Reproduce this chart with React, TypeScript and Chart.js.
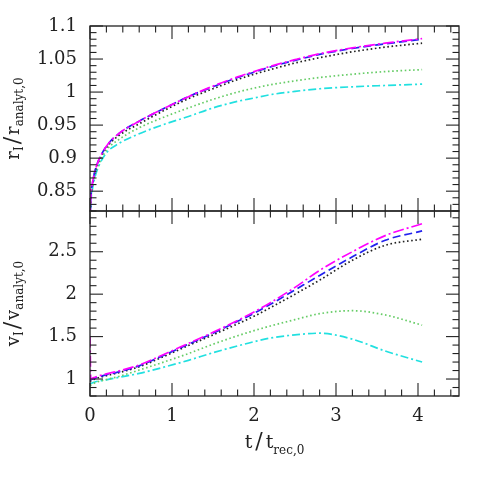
import React, { useEffect, useRef } from "react";
import { Chart, registerables } from "chart.js";
Chart.register(...registerables);

// time grid t / t_rec,0
const T = [0, 0.01, 0.03, 0.06, 0.1, 0.2, 0.35, 0.6, 0.9, 1.2, 1.5, 1.8, 2.0, 2.2, 2.5, 2.8, 3.2, 3.6, 4.05];

// top panel: r_I / r_analyt,0
const R_MAGENTA = [0.80, 0.84, 0.862, 0.880, 0.895, 0.918, 0.937, 0.956, 0.975, 0.993, 1.009, 1.023, 1.031, 1.039, 1.049, 1.058, 1.067, 1.074, 1.081];
const R_BLUE = [0.80, 0.84, 0.862, 0.880, 0.895, 0.918, 0.937, 0.956, 0.975, 0.993, 1.008, 1.022, 1.030, 1.038, 1.048, 1.057, 1.066, 1.073, 1.080];
const R_BLACK = [0.80, 0.84, 0.861, 0.879, 0.894, 0.916, 0.934, 0.952, 0.972, 0.990, 1.005, 1.019, 1.027, 1.034, 1.044, 1.052, 1.061, 1.068, 1.074];
const R_GREEN = [0.80, 0.835, 0.857, 0.875, 0.889, 0.912, 0.928, 0.946, 0.962, 0.976, 0.989, 1.000, 1.006, 1.011, 1.017, 1.022, 1.027, 1.031, 1.034];
const R_CYAN = [0.80, 0.832, 0.853, 0.871, 0.886, 0.908, 0.922, 0.937, 0.951, 0.963, 0.976, 0.986, 0.991, 0.996, 1.001, 1.005, 1.008, 1.010, 1.012];

// bottom panel: v_I / v_analyt,0
const V_MAGENTA = [1.5, 1.00, 1.01, 1.02, 1.035, 1.06, 1.095, 1.165, 1.29, 1.42, 1.55, 1.69, 1.79, 1.90, 2.08, 2.28, 2.50, 2.69, 2.83];
const V_BLUE = [1.0, 0.99, 1.0, 1.01, 1.025, 1.05, 1.085, 1.155, 1.28, 1.41, 1.54, 1.68, 1.775, 1.88, 2.05, 2.22, 2.44, 2.635, 2.745];
const V_BLACK = [0.97, 0.98, 0.99, 1.0, 1.015, 1.04, 1.075, 1.145, 1.265, 1.395, 1.52, 1.65, 1.74, 1.84, 2.0, 2.165, 2.40, 2.576, 2.647];
const V_GREEN = [0.93, 0.93, 0.94, 0.955, 0.97, 0.995, 1.03, 1.106, 1.20, 1.30, 1.41, 1.51, 1.57, 1.625, 1.70, 1.77, 1.805, 1.755, 1.635];
const V_CYAN = [0.95, 0.95, 0.955, 0.965, 0.975, 0.99, 1.02, 1.066, 1.14, 1.22, 1.31, 1.39, 1.44, 1.483, 1.52, 1.54, 1.47, 1.33, 1.20];

// ticks
const X_TICKS = [0, 1, 2, 3, 4];
const R_TICKS = [0.85, 0.9, 0.95, 1, 1.05, 1.1];
const V_TICKS = [1, 1.5, 2, 2.5];

const FONT = "'DejaVu Serif', serif";
const INK = "#222";

const STYLES = [
  { color: "#ff00ff", dash: [11, 3, 2, 3] },
  { color: "#2222ee", dash: [8, 4] },
  { color: "#222222", dash: [1.6, 2.6] },
  { color: "#66cc66", dash: [1.6, 2.6] },
  { color: "#22e0e0", dash: [8, 3, 2, 3] },
];

type Run = { t: string; s: number; dy?: number; gap?: number };

function drawRuns(ctx: CanvasRenderingContext2D, runs: Run[], cx: number, cy: number, rotate: boolean) {
  ctx.save();
  ctx.translate(cx, cy);
  if (rotate) ctx.rotate(-Math.PI / 2);
  ctx.fillStyle = INK;
  ctx.textBaseline = "alphabetic";
  ctx.textAlign = "left";
  let total = 0;
  const widths = runs.map((r) => {
    ctx.font = `${r.s}px ${FONT}`;
    const w = ctx.measureText(r.t).width + (r.gap || 0) * 2;
    total += w;
    return w;
  });
  let x = -total / 2;
  runs.forEach((r, i) => {
    ctx.font = `${r.s}px ${FONT}`;
    ctx.fillText(r.t, x + (r.gap || 0), r.dy || 0);
    x += widths[i];
  });
  ctx.restore();
}

const frameTicks = {
  id: "frameTicks",
  afterDatasetsDraw(chart: any, _args: any, opts: any) {
    const { ctx, chartArea: a, scales } = chart;
    const xs = scales.x;
    const ys = scales.y;
    ctx.save();
    ctx.strokeStyle = INK;
    ctx.lineWidth = 1.3;
    ctx.strokeRect(a.left, a.top, a.right - a.left, a.bottom - a.top);
    ctx.lineWidth = 1.1;
    const seg = (x1: number, y1: number, x2: number, y2: number) => {
      ctx.beginPath();
      ctx.moveTo(x1, y1);
      ctx.lineTo(x2, y2);
      ctx.stroke();
    };
    const isMajor = (v: number, step: number) => Math.abs(v / step - Math.round(v / step)) < 1e-6;
    const MAJ = 13, MIN = 6.5;
    for (let i = 0; ; i++) {
      const v = xs.min + i * opts.xMinor;
      if (v > xs.max + 1e-9) break;
      const px = xs.getPixelForValue(v);
      const L = isMajor(v, opts.xMajor) ? MAJ : MIN;
      seg(px, a.bottom, px, a.bottom - L);
      seg(px, a.top, px, a.top + L);
    }
    const start = Math.ceil(ys.min / opts.yMinor - 1e-6);
    for (let i = start; ; i++) {
      const v = i * opts.yMinor;
      if (v > ys.max + 1e-9) break;
      const py = ys.getPixelForValue(v);
      const L = isMajor(v, opts.yMajor) ? MAJ : MIN;
      seg(a.left, py, a.left + L, py);
      seg(a.right, py, a.right - L, py);
    }
    ctx.restore();
    if (opts.ytitle) {
      drawRuns(ctx, opts.ytitle, 19, (a.top + a.bottom) / 2, true);
    }
    if (opts.xtitle) {
      drawRuns(ctx, opts.xtitle, (a.left + a.right) / 2, a.bottom + 52, false);
    }
  },
};

function makeDatasets(series: number[][]) {
  return series.map((vals, i) => ({
    data: T.map((t, j) => ({ x: t, y: vals[j] })),
    borderColor: STYLES[i].color,
    borderDash: STYLES[i].dash,
    borderWidth: 1.7,
    pointRadius: 0,
    fill: false,
    cubicInterpolationMode: "monotone" as const,
  }));
}

function zeroPad(s: any) {
  s.paddingTop = 0;
  s.paddingBottom = 0;
  s.paddingLeft = 0;
  s.paddingRight = 0;
}

function makeConfig(opts: {
  series: number[][];
  ymin: number;
  ymax: number;
  yticks: number[];
  showX: boolean;
  padding: any;
  xHeight: number;
  yMinor: number;
  yMajor: number;
  ytitle: Run[];
  xtitle?: Run[];
}): any {
  const tickFont = { family: FONT, size: 18 };
  return {
    type: "line",
    data: { datasets: makeDatasets(opts.series) },
    options: {
      animation: false,
      responsive: false,
      events: [],
      layout: { padding: opts.padding },
      plugins: {
        legend: { display: false },
        tooltip: { enabled: false },
        frameTicks: {
          xMinor: 0.2,
          xMajor: 1,
          yMinor: opts.yMinor,
          yMajor: opts.yMajor,
          ytitle: opts.ytitle,
          xtitle: opts.xtitle,
        },
      },
      scales: {
        x: {
          type: "linear",
          min: 0,
          max: 4.5,
          display: opts.showX,
          grid: { display: false, drawTicks: false },
          border: { display: false },
          afterBuildTicks: (s: any) => {
            s.ticks = X_TICKS.map((value) => ({ value }));
          },
          afterFit: (s: any) => {
            s.height = opts.xHeight;
            zeroPad(s);
          },
          ticks: {
            font: tickFont,
            color: INK,
            padding: 10,
            maxRotation: 0,
            callback: (v: number) => String(v),
          },
        },
        y: {
          type: "linear",
          min: opts.ymin,
          max: opts.ymax,
          grid: { display: false, drawTicks: false },
          border: { display: false },
          afterBuildTicks: (s: any) => {
            s.ticks = opts.yticks.map((value) => ({ value }));
          },
          afterFit: (s: any) => {
            s.width = 90;
            zeroPad(s);
          },
          ticks: {
            font: tickFont,
            color: INK,
            padding: 13,
            callback: (v: number) => String(Number(v.toFixed(2))),
          },
        },
      },
    },
    plugins: [frameTicks],
  };
}

export default function App() {
  const topRef = useRef<HTMLCanvasElement>(null);
  const botRef = useRef<HTMLCanvasElement>(null);

  useEffect(() => {
    const top = new Chart(
      topRef.current!,
      makeConfig({
        series: [R_MAGENTA, R_BLUE, R_BLACK, R_GREEN, R_CYAN],
        ymin: 0.82,
        ymax: 1.1,
        yticks: R_TICKS,
        showX: false,
        padding: { top: 26, right: 26, bottom: 2, left: 0 },
        xHeight: 0,
        yMinor: 0.01,
        yMajor: 0.05,
        ytitle: [
          { t: "r", s: 18 },
          { t: "I", s: 12, dy: 4 },
          { t: "/", s: 22, gap: 2 },
          { t: "r", s: 18 },
          { t: "analyt,0", s: 12, dy: 4 },
        ],
      })
    );
    const bot = new Chart(
      botRef.current!,
      makeConfig({
        series: [V_MAGENTA, V_BLUE, V_BLACK, V_GREEN, V_CYAN],
        ymin: 0.8,
        ymax: 2.98,
        yticks: V_TICKS,
        showX: true,
        padding: { top: 2, right: 26, bottom: 0, left: 0 },
        xHeight: 89,
        yMinor: 0.1,
        yMajor: 0.5,
        ytitle: [
          { t: "v", s: 18 },
          { t: "I", s: 12, dy: 4 },
          { t: "/", s: 22, gap: 2 },
          { t: "v", s: 18 },
          { t: "analyt,0", s: 12, dy: 4 },
        ],
        xtitle: [
          { t: "t", s: 19 },
          { t: "/", s: 22, gap: 3 },
          { t: "t", s: 19 },
          { t: "rec,0", s: 12, dy: 6 },
        ],
      })
    );
    return () => {
      top.destroy();
      bot.destroy();
    };
  }, []);

  return (
    <div style={{ position: "fixed", left: 0, top: 0, width: 485, height: 485, background: "#fff" }}>
      <canvas
        ref={topRef}
        width={485}
        height={213}
        style={{ position: "absolute", left: 0, top: 0, width: 485, height: 213 }}
      />
      <canvas
        ref={botRef}
        width={485}
        height={276}
        style={{ position: "absolute", left: 0, top: 209, width: 485, height: 276 }}
      />
    </div>
  );
}
